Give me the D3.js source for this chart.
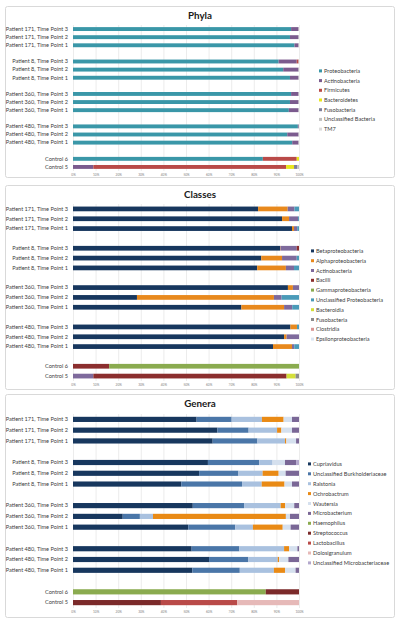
<!DOCTYPE html>
<html><head><meta charset="utf-8">
<script src="https://cdn.jsdelivr.net/npm/d3@7"></script>
<style>body{margin:0;background:#fff}svg{display:block}text{font-family:Lato,"Open Sans",sans-serif}</style>
</head><body><svg id="c" width="400" height="622"></svg>
<script>
const rows = ["Patient 171, Time Point 3","Patient 171, Time Point 2","Patient 171, Time Point 1","gap1",
  "Patient 8, Time Point 3","Patient 8, Time Point 2","Patient 8, Time Point 1","gap2",
  "Patient 360, Time Point 3","Patient 360, Time Point 2","Patient 360, Time Point 1","gap3",
  "Patient 480, Time Point 3","Patient 480, Time Point 2","Patient 480, Time Point 1","gap4",
  "Control 6","Control 5"];
const xTicks = [0,10,20,30,40,50,60,70,80,90,100];

const phylaSeries = ["Proteobacteria","Actinobacteria","Firmicutes","Bacteroidetes","Fusobacteria","Unclassified Bacteria","TM7"];
const phylaColors = ["#3a97a8","#7b5b8e","#b94a48","#e8e61c","#7f7f9a","#bfbfbf","#dcdcdc"];
const phylaValues = [
  [96.5,3.3,0,0,0,0.2,0],[96,3.8,0,0,0,0.2,0],[98,1.8,0,0,0,0.2,0],
  [91,8,0.8,0,0,0.2,0],[93,6.8,0,0,0,0.2,0],[96,3.8,0,0,0,0.2,0],
  [96.5,3.3,0,0,0,0.2,0],[96,3.8,0,0,0,0.2,0],[95.5,4.3,0,0,0,0.2,0],
  [99.5,0.4,0,0,0,0.1,0],[94.8,5,0,0,0,0.2,0],[97,2.8,0,0,0,0.2,0],
  [84,0,15,1,0,0,0],[0,9,85.3,3.5,1.5,0.7,0]];

const classSeries = ["Betaproteobacteria","Alphaproteobacteria","Actinobacteria","Bacilli","Gammaproteobacteria","Unclassified Proteobacteria","Bacteroidia","Fusobacteria","Clostridia","Epsilonproteobacteria"];
const classColors = ["#17375e","#e8891d","#7e6a9c","#8b2e2e","#8aab4f","#4a9ab8","#d4df3a","#8c8c8c","#d99694","#dce6f2"];
const classValues = [
  [81.9,13.1,3,0,0,2,0,0,0,0],[92.5,3.1,4.0,0,0,0.4,0,0,0,0],[96.9,0.9,1.4,0,0,0.8,0,0,0,0],
  [91.6,0.2,7.2,1.0,0,0,0,0,0,0],[83.3,9.2,6.5,0,0,1.0,0,0,0,0],[81.5,12.7,3.6,0,0,2.2,0,0,0,0],
  [95.1,2.2,2.7,0,0,0,0,0,0,0],[28.3,60.6,3.4,0,0,7.7,0,0,0,0],[74.5,18.9,3.6,0,0,3.0,0,0,0,0],
  [96.2,2.9,0,0,0,0.9,0,0,0,0],[93.4,1.1,5.5,0,0,0,0,0,0,0],[88.5,8.4,1.0,0,0,2.1,0,0,0,0],
  [0,0,0,16,84,0,0,0,0,0],[0,0,9,85.5,0,0,4,1.5,0,0]];

const genusSeries = ["Cupriavidus","Unclassified Burkholderiaceae","Ralstonia","Ochrobactrum","Wautersia","Microbacterium","Haemophilus","Streptococcus","Lactobacillus","Dolosigranulum","Unclassified Microbacteriaceae"];
const genusColors = ["#17375e","#4a76a8","#a9c1df","#e98a15","#d5e0ee","#7a6796","#8aab4f","#7b2a2a","#b94a48","#e6b9b8","#b3a8cc"];
const genusValues = [
  [54.7,15.5,13.4,9.6,3.7,3.1,0,0,0,0,0],[63.9,13.8,12.6,1.9,4.7,3.1,0,0,0,0,0],[61.8,19.8,12.2,0.6,4.3,1.3,0,0,0,0,0],
  [59.7,22.7,5.9,0,5.5,4.9,0,0,0,0,1.3],[55.8,17.4,10.7,7.1,3.1,5.9,0,0,0,0,0],[47.9,26.9,8.7,10.1,3.3,3.1,0,0,0,0,0],
  [53,22.7,16.2,2.0,4.0,2.1,0,0,0,0,0],[22,7.6,5.8,58.8,1.8,4.0,0,0,0,0,0],[51,20.8,7.8,13.2,3.5,3.7,0,0,0,0,0],
  [52.5,21.1,19.8,2.2,3.7,0.7,0,0,0,0,0],[60.2,17.4,13.0,0.6,4.1,4.7,0,0,0,0,0],[52.8,21,15.1,4.9,4.7,1.5,0,0,0,0,0],
  [0,0,0,0,0,0,85.3,14.7,0,0,0],[0,0,0,0,0,0,0,38.9,33.8,27.3,0]];

const svg = d3.select("#c");
const dataRows = rows.filter(r => !r.startsWith("gap"));

const panels = [
  {title:"Phyla", series:phylaSeries, colors:phylaColors, values:phylaValues, box:[5,6,390,172], titleY:19, y:[25,171], legX:322, legY:71, legStep:9.7},
  {title:"Classes", series:classSeries, colors:classColors, values:classValues, box:[5,185,390,205], titleY:198, y:[204,381], legX:314, legY:251, legStep:9.8},
  {title:"Genera", series:genusSeries, colors:genusColors, values:genusValues, box:[5,394,390,224], titleY:407, y:[414,608], legX:311, legY:464, legStep:9.9}
];

panels.forEach(p => {
  const g = svg.append("g");
  g.append("rect").attr("x",p.box[0]+0.5).attr("y",p.box[1]+0.5).attr("width",p.box[2]-1).attr("height",p.box[3]-1)
    .attr("rx",2).attr("fill","#fff").attr("stroke","#d9d9d9").attr("stroke-width",1);
  g.append("text").attr("x",200).attr("y",p.titleY).attr("text-anchor","middle")
    .attr("font-size",9.8).attr("font-weight","bold").attr("fill","#1a1a1a").text(p.title);

  const x = d3.scaleLinear().domain([0,100]).range([73,299]);
  const y = d3.scaleBand().domain(rows).range(p.y).paddingInner(0.52).paddingOuter(0.26);

  g.append("g").attr("transform",`translate(0,${p.y[1]})`)
    .call(d3.axisBottom(x).tickValues(xTicks).tickSize(-(p.y[1]-p.y[0])).tickFormat(""))
    .call(a => a.select(".domain").remove())
    .call(a => a.selectAll("line").attr("stroke","#d9d9d9").attr("stroke-width",0.5));
  g.append("g").attr("transform",`translate(0,${p.y[1]})`)
    .call(d3.axisBottom(x).tickValues(xTicks).tickSize(0).tickPadding(3).tickFormat(d => d + "%"))
    .call(a => a.select(".domain").remove())
    .call(a => a.selectAll("text").attr("font-size",3.2).attr("fill","#7f7f7f").attr("font-family","Lato,sans-serif"));
  g.append("g").attr("transform","translate(73,0)")
    .call(d3.axisLeft(y).tickSize(0).tickPadding(5).tickFormat(d => d.startsWith("gap") ? "" : d))
    .call(a => a.select(".domain").remove())
    .call(a => a.selectAll("text").attr("font-size",5.6).attr("fill","#404040").attr("font-family","Lato,sans-serif"));

  const table = dataRows.map((r,i) => {
    const o = {row:r};
    p.series.forEach((s,j) => o[s] = p.values[i][j]);
    return o;
  });
  const stacked = d3.stack().keys(p.series)(table);
  g.append("g").selectAll("g").data(stacked).join("g")
    .attr("fill",(d,i) => p.colors[i])
    .selectAll("rect").data(d => d).join("rect")
    .attr("x", d => x(d[0])).attr("width", d => Math.max(0, x(d[1]) - x(d[0])))
    .attr("y", d => y(d.data.row)).attr("height", y.bandwidth());

  const leg = g.append("g").selectAll("g").data(p.series).join("g")
    .attr("transform",(d,i) => `translate(${p.legX},${p.legY + i*p.legStep})`);
  leg.append("rect").attr("x",-3).attr("y",-1.6).attr("width",3).attr("height",3).attr("fill",(d,i) => p.colors[i]);
  leg.append("text").attr("x",2).attr("y",0).attr("dy","0.35em").attr("font-size",5.6).attr("fill","#404040").text(d => d);
});
</script></body></html>
